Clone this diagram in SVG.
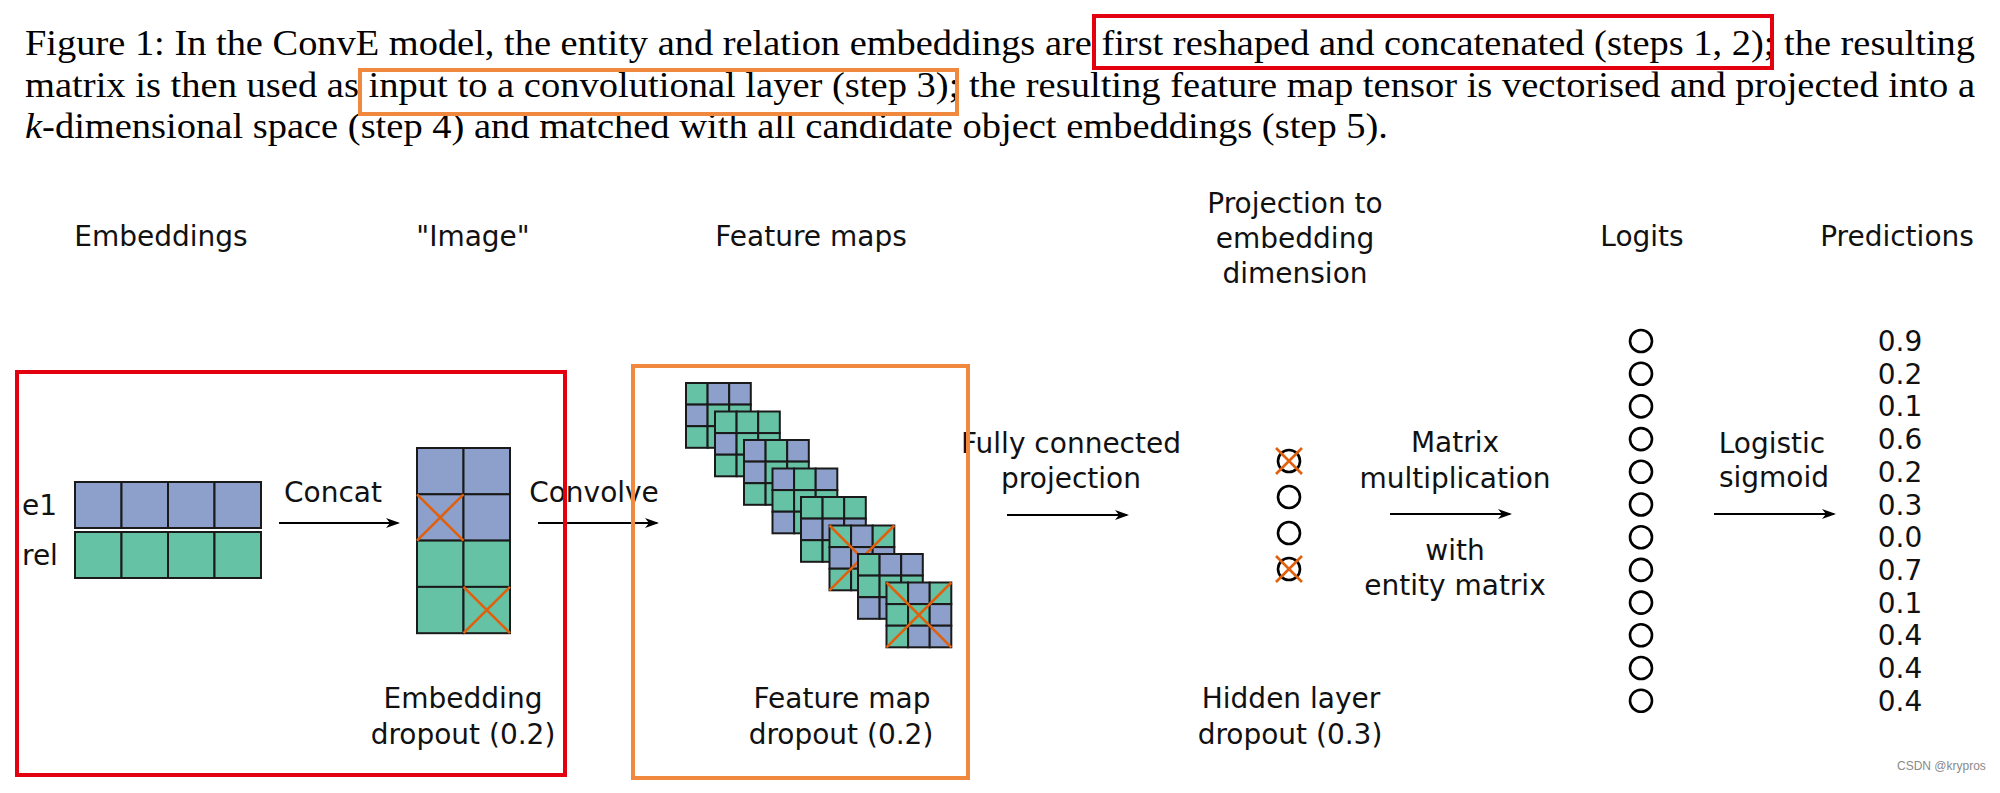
<svg xmlns="http://www.w3.org/2000/svg" width="2000" height="793" viewBox="0 0 2000 793">
<style>
.cap{font-family:"Liberation Serif","Times New Roman",serif;font-size:36px;fill:#000}
.lbl{font-family:"DejaVu Sans","Liberation Sans",sans-serif;font-size:28px;fill:#111;text-anchor:middle}
.lft{text-anchor:start}
.b{fill:#8da0cb;stroke:#1a1a1a;stroke-width:2}
.g{fill:#66c2a5;stroke:#1a1a1a;stroke-width:2}
.x{stroke:#e0600e;stroke-width:2.6;fill:none}
.c{fill:none;stroke:#000;stroke-width:2.6}
.arr{stroke:#000;stroke-width:1.8;fill:none;marker-end:url(#ah)}
.wm{font-family:"Liberation Sans",Arial,sans-serif;font-size:12px;fill:#8a8a8a}
</style>
<defs>
<marker id="ah" markerWidth="14" markerHeight="10" refX="12" refY="5" orient="auto" markerUnits="userSpaceOnUse">
<path d="M0,0 L14,5 L0,10 L4,5 z" fill="#000"/>
</marker>
</defs>
<rect width="2000" height="793" fill="#fff"/>

<g id="caption">
<text class="cap" x="25" y="55" textLength="1950" lengthAdjust="spacingAndGlyphs">Figure 1: In the ConvE model, the entity and relation embeddings are first reshaped and concatenated (steps 1, 2); the resulting</text>
<text class="cap" x="25" y="97" textLength="1950" lengthAdjust="spacingAndGlyphs">matrix is then used as input to a convolutional layer (step 3); the resulting feature map tensor is vectorised and projected into a</text>
<text class="cap" x="25" y="138" textLength="1363" lengthAdjust="spacingAndGlyphs"><tspan font-style="italic">k</tspan>-dimensional space (step 4) and matched with all candidate object embeddings (step 5).</text>
<rect x="1094" y="16" width="678" height="52" fill="none" stroke="#e3000f" stroke-width="4"/>
<rect x="360" y="70" width="597" height="44" fill="none" stroke="#f0883e" stroke-width="4"/>
</g>

<g id="headers">
<text class="lbl" x="161" y="246">Embeddings</text>
<text class="lbl" x="473" y="246">"Image"</text>
<text class="lbl" x="811" y="246">Feature maps</text>
<text class="lbl" x="1295" y="213">Projection to</text>
<text class="lbl" x="1295" y="248">embedding</text>
<text class="lbl" x="1295" y="283">dimension</text>
<text class="lbl" x="1642" y="246">Logits</text>
<text class="lbl" x="1897" y="246">Predictions</text>
</g>

<g id="embeddings">
<text class="lbl lft" x="22" y="515">e1</text>
<text class="lbl lft" x="22" y="565">rel</text>
<rect class="b" x="75" y="482" width="46.5" height="46"/>
<rect class="b" x="121.5" y="482" width="46.5" height="46"/>
<rect class="b" x="168" y="482" width="46.5" height="46"/>
<rect class="b" x="214.5" y="482" width="46.5" height="46"/>
<rect class="g" x="75" y="532" width="46.5" height="46"/>
<rect class="g" x="121.5" y="532" width="46.5" height="46"/>
<rect class="g" x="168" y="532" width="46.5" height="46"/>
<rect class="g" x="214.5" y="532" width="46.5" height="46"/>
</g>

<g id="image">
<rect class="b" x="417" y="448" width="46.5" height="46.3"/>
<rect class="b" x="463.5" y="448" width="46.5" height="46.3"/>
<rect class="b" x="417" y="494.3" width="46.5" height="46.3"/>
<rect class="b" x="463.5" y="494.3" width="46.5" height="46.3"/>
<rect class="g" x="417" y="540.6" width="46.5" height="46.3"/>
<rect class="g" x="463.5" y="540.6" width="46.5" height="46.3"/>
<rect class="g" x="417" y="586.9" width="46.5" height="46.3"/>
<rect class="g" x="463.5" y="586.9" width="46.5" height="46.3"/>
<path class="x" d="M417,494.3 L463.5,540.6 M463.5,494.3 L417,540.6"/>
<path class="x" d="M463.5,586.9 L510,633.2 M510,586.9 L463.5,633.2"/>
<text class="lbl" x="463" y="708">Embedding</text>
<text class="lbl" x="463" y="744">dropout (0.2)</text>
</g>

<g id="feature-maps">
<g transform="translate(686,383)">
<rect class="g" x="0" y="0" width="21.6" height="21.6"/><rect class="b" x="21.6" y="0" width="21.6" height="21.6"/><rect class="b" x="43.2" y="0" width="21.6" height="21.6"/>
<rect class="b" x="0" y="21.6" width="21.6" height="21.6"/><rect class="g" x="21.6" y="21.6" width="21.6" height="21.6"/><rect class="g" x="43.2" y="21.6" width="21.6" height="21.6"/>
<rect class="g" x="0" y="43.2" width="21.6" height="21.6"/><rect class="g" x="21.6" y="43.2" width="21.6" height="21.6"/><rect class="g" x="43.2" y="43.2" width="21.6" height="21.6"/>
</g>
<g transform="translate(715,411.5)">
<rect class="g" x="0" y="0" width="21.6" height="21.6"/><rect class="g" x="21.6" y="0" width="21.6" height="21.6"/><rect class="g" x="43.2" y="0" width="21.6" height="21.6"/>
<rect class="b" x="0" y="21.6" width="21.6" height="21.6"/><rect class="g" x="21.6" y="21.6" width="21.6" height="21.6"/><rect class="g" x="43.2" y="21.6" width="21.6" height="21.6"/>
<rect class="g" x="0" y="43.2" width="21.6" height="21.6"/><rect class="g" x="21.6" y="43.2" width="21.6" height="21.6"/><rect class="g" x="43.2" y="43.2" width="21.6" height="21.6"/>
</g>
<g transform="translate(744,440)">
<rect class="b" x="0" y="0" width="21.6" height="21.6"/><rect class="g" x="21.6" y="0" width="21.6" height="21.6"/><rect class="b" x="43.2" y="0" width="21.6" height="21.6"/>
<rect class="b" x="0" y="21.6" width="21.6" height="21.6"/><rect class="g" x="21.6" y="21.6" width="21.6" height="21.6"/><rect class="g" x="43.2" y="21.6" width="21.6" height="21.6"/>
<rect class="g" x="0" y="43.2" width="21.6" height="21.6"/><rect class="g" x="21.6" y="43.2" width="21.6" height="21.6"/><rect class="g" x="43.2" y="43.2" width="21.6" height="21.6"/>
</g>
<g transform="translate(772.5,468.5)">
<rect class="b" x="0" y="0" width="21.6" height="21.6"/><rect class="g" x="21.6" y="0" width="21.6" height="21.6"/><rect class="b" x="43.2" y="0" width="21.6" height="21.6"/>
<rect class="g" x="0" y="21.6" width="21.6" height="21.6"/><rect class="g" x="21.6" y="21.6" width="21.6" height="21.6"/><rect class="g" x="43.2" y="21.6" width="21.6" height="21.6"/>
<rect class="b" x="0" y="43.2" width="21.6" height="21.6"/><rect class="g" x="21.6" y="43.2" width="21.6" height="21.6"/><rect class="g" x="43.2" y="43.2" width="21.6" height="21.6"/>
</g>
<g transform="translate(801,497)">
<rect class="g" x="0" y="0" width="21.6" height="21.6"/><rect class="g" x="21.6" y="0" width="21.6" height="21.6"/><rect class="g" x="43.2" y="0" width="21.6" height="21.6"/>
<rect class="b" x="0" y="21.6" width="21.6" height="21.6"/><rect class="b" x="21.6" y="21.6" width="21.6" height="21.6"/><rect class="b" x="43.2" y="21.6" width="21.6" height="21.6"/>
<rect class="g" x="0" y="43.2" width="21.6" height="21.6"/><rect class="g" x="21.6" y="43.2" width="21.6" height="21.6"/><rect class="g" x="43.2" y="43.2" width="21.6" height="21.6"/>
</g>
<g transform="translate(829.5,525.5)">
<rect class="g" x="0" y="0" width="21.6" height="21.6"/><rect class="b" x="21.6" y="0" width="21.6" height="21.6"/><rect class="g" x="43.2" y="0" width="21.6" height="21.6"/>
<rect class="b" x="0" y="21.6" width="21.6" height="21.6"/><rect class="b" x="21.6" y="21.6" width="21.6" height="21.6"/><rect class="b" x="43.2" y="21.6" width="21.6" height="21.6"/>
<rect class="g" x="0" y="43.2" width="21.6" height="21.6"/><rect class="g" x="21.6" y="43.2" width="21.6" height="21.6"/><rect class="g" x="43.2" y="43.2" width="21.6" height="21.6"/>
<path class="x" d="M0,0 L64.8,64.8 M64.8,0 L0,64.8"/>
</g>
<g transform="translate(858,554)">
<rect class="g" x="0" y="0" width="21.6" height="21.6"/><rect class="b" x="21.6" y="0" width="21.6" height="21.6"/><rect class="b" x="43.2" y="0" width="21.6" height="21.6"/>
<rect class="g" x="0" y="21.6" width="21.6" height="21.6"/><rect class="g" x="21.6" y="21.6" width="21.6" height="21.6"/><rect class="g" x="43.2" y="21.6" width="21.6" height="21.6"/>
<rect class="b" x="0" y="43.2" width="21.6" height="21.6"/><rect class="b" x="21.6" y="43.2" width="21.6" height="21.6"/><rect class="b" x="43.2" y="43.2" width="21.6" height="21.6"/>
</g>
<g transform="translate(886.5,582.5)">
<rect class="g" x="0" y="0" width="21.6" height="21.6"/><rect class="b" x="21.6" y="0" width="21.6" height="21.6"/><rect class="g" x="43.2" y="0" width="21.6" height="21.6"/>
<rect class="g" x="0" y="21.6" width="21.6" height="21.6"/><rect class="g" x="21.6" y="21.6" width="21.6" height="21.6"/><rect class="b" x="43.2" y="21.6" width="21.6" height="21.6"/>
<rect class="g" x="0" y="43.2" width="21.6" height="21.6"/><rect class="b" x="21.6" y="43.2" width="21.6" height="21.6"/><rect class="b" x="43.2" y="43.2" width="21.6" height="21.6"/>
<path class="x" d="M0,0 L64.8,64.8 M64.8,0 L0,64.8"/>
</g>
<text class="lbl" x="842" y="708">Feature map</text>
<text class="lbl" x="841" y="744">dropout (0.2)</text>
</g>

<g id="hidden-layer">
<circle class="c" cx="1289" cy="461" r="11"/>
<circle class="c" cx="1289" cy="497" r="11"/>
<circle class="c" cx="1289" cy="533" r="11"/>
<circle class="c" cx="1289" cy="569" r="11"/>
<path class="x" d="M1276,448 L1302,474 M1302,448 L1276,474"/>
<path class="x" d="M1276,556 L1302,582 M1302,556 L1276,582"/>
<text class="lbl" x="1291" y="708">Hidden layer</text>
<text class="lbl" x="1290" y="744">dropout (0.3)</text>
</g>

<g id="logits">
<circle class="c" cx="1641" cy="341" r="11"/>
<circle class="c" cx="1641" cy="373.7" r="11"/>
<circle class="c" cx="1641" cy="406.4" r="11"/>
<circle class="c" cx="1641" cy="439.1" r="11"/>
<circle class="c" cx="1641" cy="471.8" r="11"/>
<circle class="c" cx="1641" cy="504.5" r="11"/>
<circle class="c" cx="1641" cy="537.2" r="11"/>
<circle class="c" cx="1641" cy="569.9" r="11"/>
<circle class="c" cx="1641" cy="602.6" r="11"/>
<circle class="c" cx="1641" cy="635.3" r="11"/>
<circle class="c" cx="1641" cy="668" r="11"/>
<circle class="c" cx="1641" cy="700.7" r="11"/>
</g>

<g id="predictions">
<text class="lbl" x="1900" y="351">0.9</text>
<text class="lbl" x="1900" y="383.7">0.2</text>
<text class="lbl" x="1900" y="416.4">0.1</text>
<text class="lbl" x="1900" y="449.1">0.6</text>
<text class="lbl" x="1900" y="481.8">0.2</text>
<text class="lbl" x="1900" y="514.5">0.3</text>
<text class="lbl" x="1900" y="547.2">0.0</text>
<text class="lbl" x="1900" y="579.9">0.7</text>
<text class="lbl" x="1900" y="612.6">0.1</text>
<text class="lbl" x="1900" y="645.3">0.4</text>
<text class="lbl" x="1900" y="678">0.4</text>
<text class="lbl" x="1900" y="710.7">0.4</text>
</g>

<g id="connectors">
<line class="arr" x1="279" y1="523" x2="398" y2="523"/>
<text class="lbl" x="333" y="502">Concat</text>
<line class="arr" x1="538" y1="523" x2="657" y2="523"/>
<text class="lbl" x="594" y="502">Convolve</text>
<line class="arr" x1="1007" y1="515" x2="1127" y2="515"/>
<text class="lbl" x="1071" y="453">Fully connected</text>
<text class="lbl" x="1071" y="488">projection</text>
<line class="arr" x1="1390" y1="514" x2="1510" y2="514"/>
<text class="lbl" x="1455" y="452">Matrix</text>
<text class="lbl" x="1455" y="488">multiplication</text>
<text class="lbl" x="1455" y="560">with</text>
<text class="lbl" x="1455" y="595">entity matrix</text>
<line class="arr" x1="1714" y1="514" x2="1834" y2="514"/>
<text class="lbl" x="1772" y="453">Logistic</text>
<text class="lbl" x="1774" y="487">sigmoid</text>
</g>

<g id="boxes">
<rect x="17" y="372" width="548" height="403" fill="none" stroke="#e3000f" stroke-width="4"/>
<rect x="633" y="366" width="335" height="412" fill="none" stroke="#f0883e" stroke-width="4"/>
</g>

<text class="wm" x="1897" y="770">CSDN @krypros</text>
</svg>
